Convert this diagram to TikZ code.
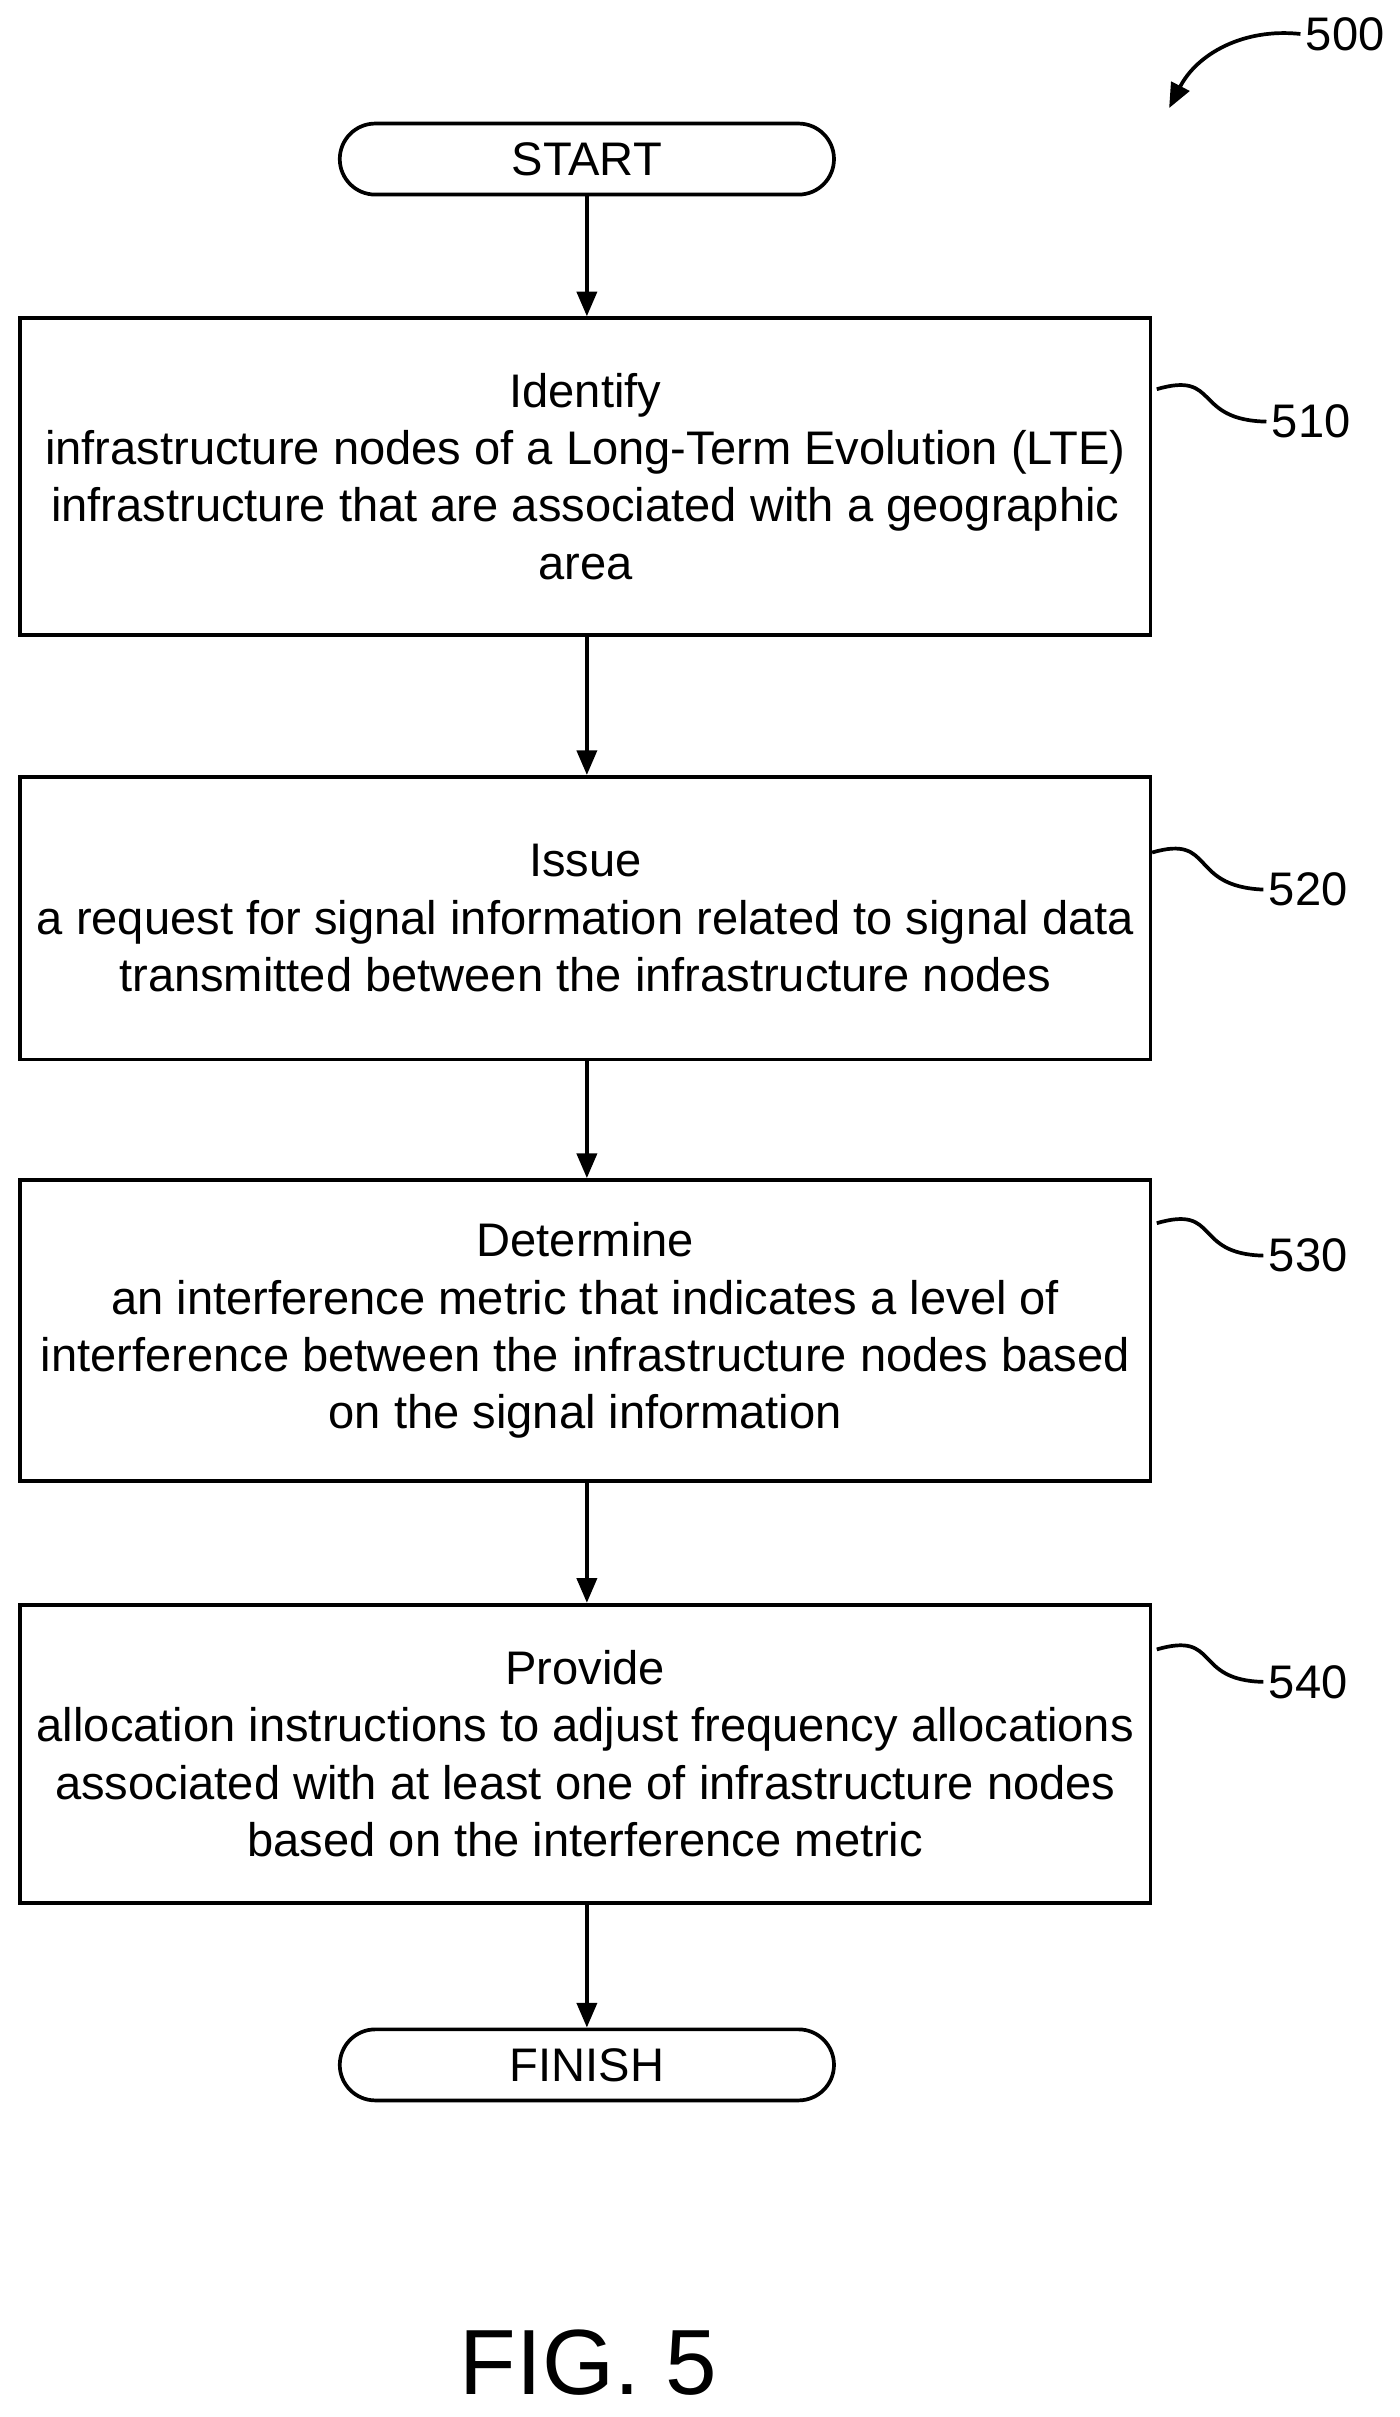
\documentclass[tikz,border=0pt]{standalone}
\usepackage{fontspec}
\setmainfont{Liberation Sans}
\usetikzlibrary{arrows.meta}
\begin{document}
\begin{tikzpicture}[x=1pt,y=-1pt,
 every node/.style={font=\fontsize{30.5}{37}\selectfont},
 box/.style={draw,line width=2.4pt,minimum width=732pt,align=center,inner sep=0pt},
 term/.style={draw,line width=2.4pt,rounded corners=23pt,minimum width=320pt,minimum height=46pt,inner sep=0pt},
 arr/.style={line width=2.4pt,-{Triangle[length=16pt,width=13pt]}},
 sq/.style={line width=2.4pt}]
\useasboundingbox (0,0) rectangle (906,1565);
\node[term] (start) at (380,103) {START};
\node[box,minimum height=205pt] (b1) at (379,308.5) {Identify\\infrastructure nodes of a Long-Term Evolution (LTE)\\infrastructure that are associated with a geographic\\area};
\node[box,minimum height=183pt] (b2) at (379,594.5) {Issue\\a request for signal information related to signal data\\transmitted between the infrastructure nodes};
\node[box,minimum height=195pt] (b3) at (379,861.5) {Determine\\an interference metric that indicates a level of\\interference between the infrastructure nodes based\\on the signal information};
\node[box,minimum height=193pt] (b4) at (379,1135.5) {Provide\\allocation instructions to adjust frequency allocations\\associated with at least one of infrastructure nodes\\based on the interference metric};
\node[term] (fin) at (380,1337) {FINISH};
\draw[arr] (start) -- (start|-b1.north);
\draw[arr] (b1.south-|start) -- (start|-b2.north);
\draw[arr] (b2.south-|start) -- (start|-b3.north);
\draw[arr] (b3.south-|start) -- (start|-b4.north);
\draw[arr] (b4.south-|start) -- (fin);
\node (l500) at (871,22) {500};
\node (l510) at (849,273) {510};
\node (l520) at (847,576) {520};
\node (l530) at (847,813) {530};
\node (l540) at (847,1089) {540};
\coordinate (a500) at (757,70);
\draw[arr] (l500.west) .. controls (805,18) and (775,35) .. (a500);
\coordinate (s1) at (749,252);
\coordinate (s2) at (746,552);
\coordinate (s3) at (749,792);
\coordinate (s4) at (749,1068);
\draw[sq] (s1) .. controls (790,240) and (772,272) .. (l510.west);
\draw[sq] (s2) .. controls (787,540) and (769,574) .. (l520.west);
\draw[sq] (s3) .. controls (790,780) and (772,812) .. (l530.west);
\draw[sq] (s4) .. controls (790,1056) and (772,1088) .. (l540.west);
\node[font=\fontsize{60}{64}\selectfont] (fig) at (381,1530) {FIG. 5};
\end{tikzpicture}
\end{document}
